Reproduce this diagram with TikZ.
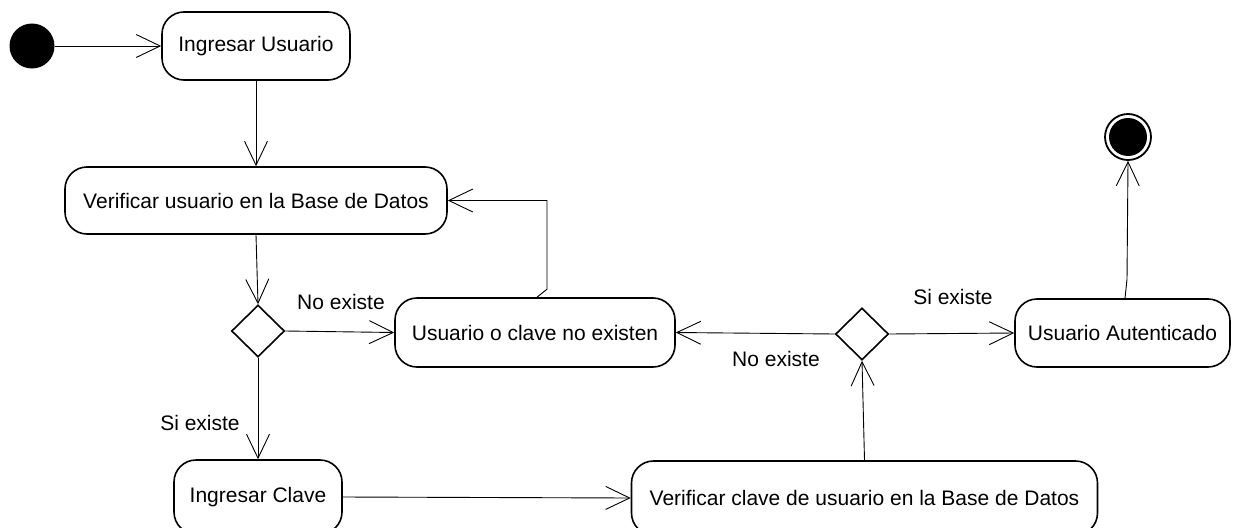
\documentclass[tikz,border=0pt]{standalone}
\usepackage{fontspec}
\setmainfont{Liberation Sans}
\usetikzlibrary{arrows.meta,shapes.geometric}
\begin{document}
\begin{tikzpicture}[x=1pt,y=-1pt,
  every node/.style={font=\fontsize{21}{25}\selectfont},
  act/.style={draw, rounded corners=22pt, line width=1.6pt, inner sep=0pt, minimum height=68pt},
  decis/.style={draw, diamond, aspect=1, line width=1.6pt, inner sep=0pt, minimum width=53pt, minimum height=52pt},
  flow/.style={line width=0.9pt, -{Straight Barb[length=24pt,width=23pt,line width=0.9pt]}},
  lbl/.style={inner sep=0pt}
]
\useasboundingbox[fill=white] (0,0) rectangle (1238,527);

\node[circle, fill=black, inner sep=0pt, minimum size=45pt] (ini) at (32,46) {};
\node[act, minimum width=188pt] (iu) at (256,46) {Ingresar Usuario};
\node[act, minimum width=382pt, minimum height=67pt] (vu) at (256,200.5) {Verificar usuario en la Base de Datos};
\node[decis] (d1) at (258,331) {};
\node[act, minimum width=280pt, minimum height=69pt] (nc) at (535,332.5) {Usuario o clave no existen};
\node[act, minimum width=168pt, minimum height=74pt] (ic) at (258,497) {Ingresar Clave};
\node[act, minimum width=466pt, minimum height=74pt] (vc) at (864.5,498) {Verificar clave de usuario en la Base de Datos};
\node[decis] (d2) at (862,334) {};
\node[act, minimum width=215pt] (ua) at (1122.5,333) {Usuario Autenticado};
\node[circle, draw, line width=1.8pt, inner sep=0pt, minimum size=46pt] (fin) at (1128,137) {};
\fill (fin.center) circle (19pt);

\draw[flow] (ini) -- (iu);
\draw[flow] (iu) -- (vu);
\draw[flow] (vu.south) -- (d1.north);
\draw[flow] (d1.east) -- (nc.west);
\draw[flow] (d1.south) -- (ic.north);
\draw[flow] ([xshift=2pt]nc.north) -- ++(10,-8) |- (vu.east);
\draw[flow] (ic.east) -- (vc.west);
\draw[flow] (vc.north) -- (d2.south);
\draw[flow] (d2.west) -- (nc.east);
\draw[flow] (d2.east) -- (ua.west);
\draw[flow] ([xshift=2.5pt]ua.north) -- ++(2,-19) -- (fin.south);

\node[lbl] (l1) at (341,302) {No existe};
\node[lbl] (l2) at (200,423) {Si existe};
\node[lbl] (l3) at (953,297) {Si existe};
\node[lbl] (l4) at (776,359) {No existe};
\end{tikzpicture}
\end{document}
